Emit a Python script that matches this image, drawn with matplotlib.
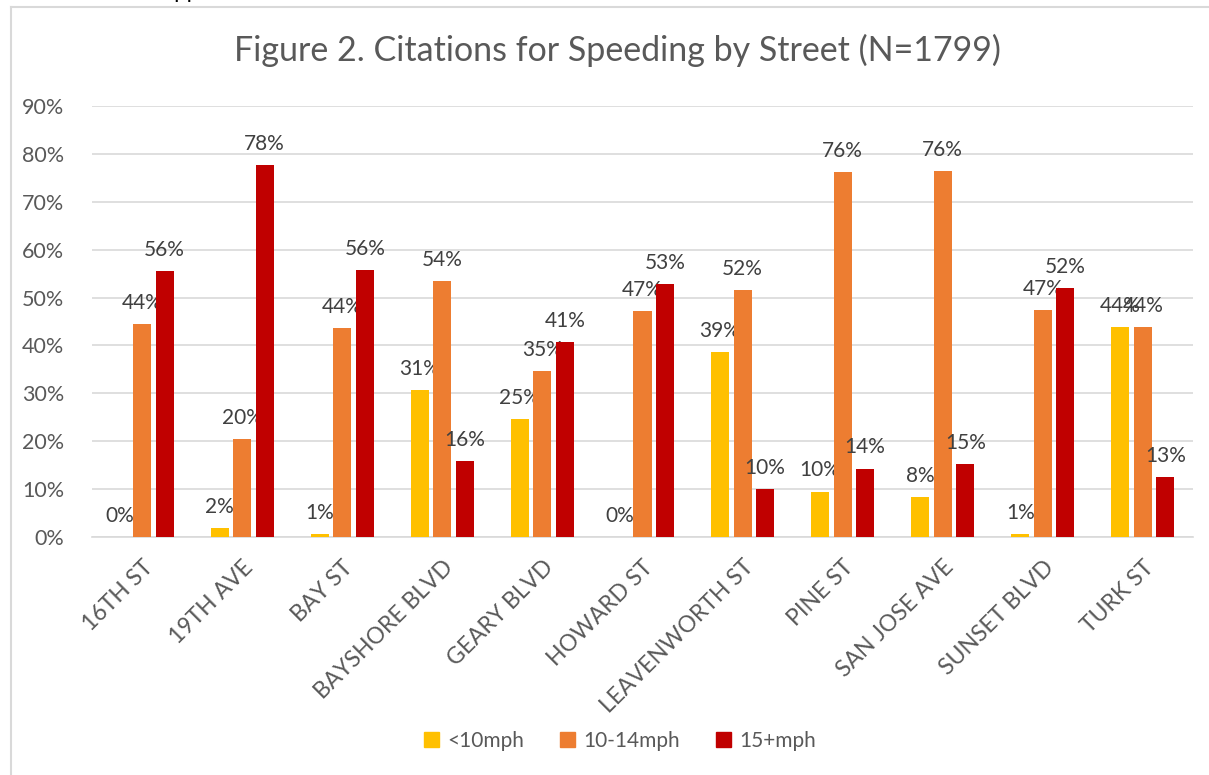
import matplotlib
matplotlib.use("Agg")
import matplotlib.pyplot as plt
from matplotlib.lines import Line2D
from matplotlib.patches import Patch
import numpy as np

plt.rcParams["font.family"] = ["Lato", "DejaVu Sans"]

STREETS = ["16TH ST", "19TH AVE", "BAY ST", "BAYSHORE BLVD", "GEARY BLVD",
           "HOWARD ST", "LEAVENWORTH ST", "PINE ST", "SAN JOSE AVE",
           "SUNSET BLVD", "TURK ST"]
SERIES = ["<10mph", "10-14mph", "15+mph"]
UNDER10 = [0.0, 1.9, 0.7, 30.7, 24.6, 0.0, 38.6, 9.5, 8.3, 0.6, 43.8]
MID = [44.5, 20.4, 43.7, 53.5, 34.6, 47.1, 51.5, 76.2, 76.5, 47.4, 43.8]
OVER15 = [55.5, 77.6, 55.7, 15.8, 40.8, 52.9, 10.0, 14.3, 15.2, 52.0, 12.6]
YTICKS = [0, 10, 20, 30, 40, 50, 60, 70, 80, 90]

COLORS = ["#FFC000", "#ED7D31", "#C00000"]
TXT = "#595959"
GRID = "#D9D9D9"

W, H = 1209, 775
fig = plt.figure(figsize=(W / 100, H / 100), dpi=100)
ax = fig.add_axes([92 / W, 1 - 537 / H, (1193 - 92) / W, (537 - 106) / H])

x = np.arange(len(STREETS))
bw, step = 0.18, 0.225
for k, (vals, col, name) in enumerate(zip([UNDER10, MID, OVER15], COLORS, SERIES)):
    xs = x + (k - 1) * step
    ax.bar(xs, vals, bw, color=col, label=name, zorder=3)
    for xi, v in zip(xs, vals):
        ax.annotate(f"{v:.0f}%", (xi, v), xytext=(0, 8), textcoords="offset points",
                    ha="center", va="bottom", fontsize=15, color="#404040")

ax.set_xlim(-0.5, len(STREETS) - 0.5)
ax.set_ylim(0, 90)
ax.set_yticks(YTICKS)
ax.set_yticklabels([f"{t}%" for t in YTICKS])
ax.set_xticks(x)
ax.set_xticklabels(STREETS, rotation=45, ha="right", rotation_mode="anchor")
ax.tick_params(axis="both", length=0, labelsize=15.5, labelcolor=TXT)
ax.tick_params(axis="x", labelsize=16.5, pad=14)
ax.tick_params(axis="y", pad=20)
ax.grid(axis="y", color=GRID, linewidth=1.2, zorder=0)
for s in ["top", "right", "left"]:
    ax.spines[s].set_visible(False)
ax.spines["bottom"].set_color(GRID)
ax.spines["bottom"].set_linewidth(1.2)

fig.text(617 / W, 1 - 50 / H, "Figure 2. Citations for Speeding by Street (N=1799)",
         ha="center", va="center", fontsize=24.5, color=TXT)

handles = [Patch(color=c) for c in COLORS]
fig.legend(handles, SERIES, loc="center", bbox_to_anchor=(620 / W, 1 - 741 / H),
           ncol=3, frameon=False, fontsize=15, labelcolor=TXT,
           handlelength=0.75, handleheight=0.75, handletextpad=0.4, columnspacing=1.7)

# chart frame (left and top edges visible)
fig.add_artist(Line2D([11 / W, 11 / W], [0, 1 - 7 / H], color=GRID, linewidth=1.5))
fig.add_artist(Line2D([11 / W, 1], [1 - 7 / H, 1 - 7 / H], color=GRID, linewidth=1.5))

# cut-off heading above the chart
fig.text(160 / W, 1 + 2 / H, "Appendix", ha="left", va="baseline", fontsize=16,
         color="black")

fig.savefig("out.png", dpi=100, facecolor="white")
